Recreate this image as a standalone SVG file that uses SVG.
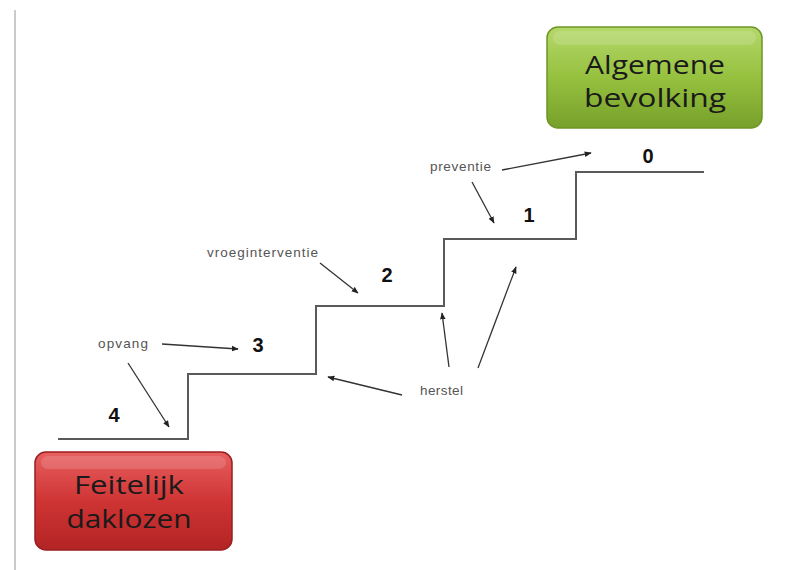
<svg xmlns="http://www.w3.org/2000/svg" width="792" height="570" viewBox="0 0 792 570">
<defs>
<linearGradient id="gGreen" x1="0" y1="0" x2="0" y2="1">
<stop offset="0" stop-color="#b4d86a"/>
<stop offset="0.5" stop-color="#96c13f"/>
<stop offset="1" stop-color="#76a02a"/>
</linearGradient>
<linearGradient id="gRed" x1="0" y1="0" x2="0" y2="1">
<stop offset="0" stop-color="#e86060"/>
<stop offset="0.5" stop-color="#cf3434"/>
<stop offset="1" stop-color="#b32424"/>
</linearGradient>
<marker id="ah" viewBox="0 0 10 10" refX="9" refY="5" markerWidth="7" markerHeight="7" orient="auto" markerUnits="userSpaceOnUse">
<path d="M0,1 L10,5 L0,9 Z" fill="#222"/>
</marker>
<style>
.stair{fill:none;stroke:#5a5a5a;stroke-width:2}
.arr{fill:none;stroke:#333;stroke-width:1.3;marker-end:url(#ah)}
.lbl{font-family:"Liberation Sans",Arial,sans-serif;font-size:13.5px;fill:#555}
.num{font-family:"Liberation Sans",Arial,sans-serif;font-size:20px;font-weight:bold;fill:#111;text-anchor:middle}
.big{font-family:"Open Sans","Liberation Sans",sans-serif;font-size:26px;fill:#1a1a1a;text-anchor:middle}
</style>
</defs>
<rect width="792" height="570" fill="#ffffff"/>
<line x1="15" y1="10" x2="15" y2="570" stroke="#b8b8b8" stroke-width="1.5"/>

<g id="stairs">
<path class="stair" d="M58,439 H188 V374 H316 V306 H444 V239 H576 V172 H704"/>
</g>

<g id="node-algemene">
<rect x="547" y="27" width="215" height="101" rx="11" fill="url(#gGreen)" stroke="#6f9526" stroke-width="1.5"/>
<rect x="553" y="31" width="203" height="14" rx="7" fill="#ffffff" opacity="0.15"/>
<text class="big" x="655" y="74" textLength="140" lengthAdjust="spacingAndGlyphs">Algemene</text>
<text class="big" x="655" y="107" textLength="142" lengthAdjust="spacingAndGlyphs">bevolking</text>
</g>

<g id="node-feitelijk">
<rect x="35" y="452" width="197" height="98" rx="11" fill="url(#gRed)" stroke="#9a1e1e" stroke-width="1.5"/>
<rect x="41" y="456" width="185" height="13" rx="7" fill="#ffffff" opacity="0.14"/>
<text class="big" x="129" y="494" textLength="110" lengthAdjust="spacingAndGlyphs">Feitelijk</text>
<text class="big" x="129" y="528" textLength="125" lengthAdjust="spacingAndGlyphs">daklozen</text>
</g>

<g id="numbers">
<text class="num" x="114" y="422">4</text>
<text class="num" x="258" y="352">3</text>
<text class="num" x="387" y="282">2</text>
<text class="num" x="529" y="222">1</text>
<text class="num" x="648" y="163">0</text>
</g>

<g id="label-opvang"><text class="lbl" x="98" y="348" textLength="50" lengthAdjust="spacing">opvang</text></g>
<g id="label-vroeginterventie"><text class="lbl" x="207" y="257" textLength="111" lengthAdjust="spacing">vroeginterventie</text></g>
<g id="label-preventie"><text class="lbl" x="430" y="171" textLength="61" lengthAdjust="spacing">preventie</text></g>
<g id="label-herstel"><text class="lbl" x="420" y="395" textLength="43" lengthAdjust="spacing">herstel</text></g>

<g id="connectors">
<line class="arr" x1="162" y1="344" x2="238" y2="349"/>
<line class="arr" x1="128" y1="363" x2="169" y2="427"/>
<line class="arr" x1="320" y1="263" x2="358" y2="293"/>
<line class="arr" x1="472" y1="182" x2="494" y2="223"/>
<line class="arr" x1="502" y1="170" x2="591" y2="153"/>
<line class="arr" x1="402" y1="395" x2="328" y2="377"/>
<line class="arr" x1="449" y1="367" x2="442" y2="313"/>
<line class="arr" x1="478" y1="368" x2="516" y2="267"/>
</g>
</svg>
